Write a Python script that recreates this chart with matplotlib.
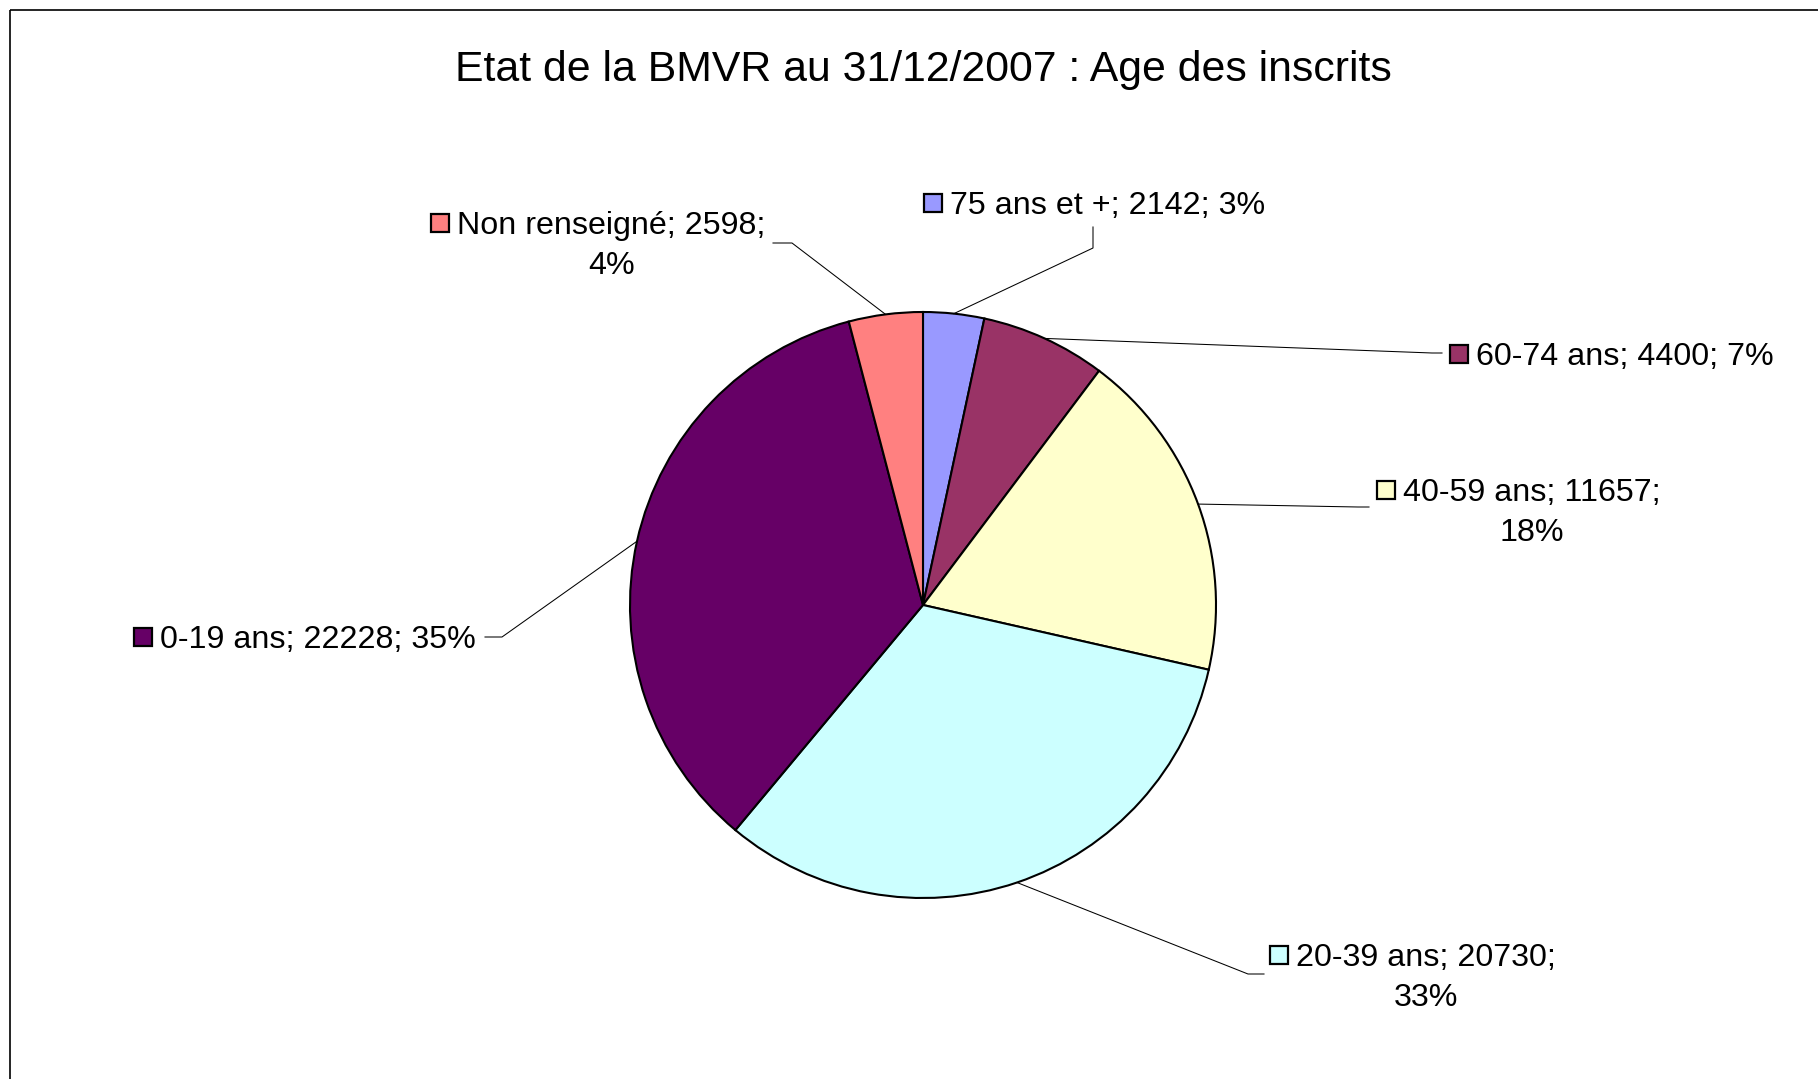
import numpy as np
import matplotlib.pyplot as plt

plt.rcParams['font.family'] = ['Liberation Sans', 'DejaVu Sans']

# data (slices clockwise from 12 o'clock)
categories = ["75 ans et +", "60-74 ans", "40-59 ans", "20-39 ans", "0-19 ans", "Non renseigné"]
counts = [2142, 4400, 11657, 20730, 22228, 2598]
colors = ["#9999FF", "#993366", "#FFFFCC", "#CCFFFF", "#660066", "#FF8080"]
title = "Etat de la BMVR au 31/12/2007 : Age des inscrits"

total = sum(counts)
percents = [f"{round(c / total * 100)}%" for c in counts]

# layout, in pixels from top-left: text start x, first line y, wrap, leader elbow, leader end
W, H = 1818, 1079
cx, cy, R = 923, 605, 293
layout = {
    "75 ans et +": (950, 203, False, (1093, 248), (1093, 227)),
    "60-74 ans": (1476, 354, False, (1432, 353), (1442, 353)),
    "40-59 ans": (1403, 490, True, (1358, 507), (1369, 507)),
    "20-39 ans": (1296, 955, True, (1248, 974), (1264, 974)),
    "0-19 ans": (160, 637, False, (502, 637), (485, 637)),
    "Non renseigné": (457, 223, True, (792, 243), (773, 243)),
}


def Y(y):
    return H - y


fig = plt.figure(figsize=(W / 100, H / 100), dpi=100)
ax = fig.add_axes([0, 0, 1, 1])

wedges, _ = ax.pie(counts, colors=colors, startangle=90, counterclock=False,
                   center=(cx, Y(cy)), radius=R,
                   wedgeprops=dict(edgecolor='black', linewidth=1.5))
ax.set_xlim(0, W)
ax.set_ylim(0, H)
ax.set_aspect('equal')
ax.axis('off')

# chart frame (runs off right and bottom)
ax.plot([10, 10], [Y(10), 0], color='black', lw=1.2, solid_capstyle='butt')
ax.plot([10, W], [Y(10), Y(10)], color='black', lw=1.2, solid_capstyle='butt')

ax.text(cx, Y(70), title, ha='center', va='center', fontsize=30.8)

renderer = fig.canvas.get_renderer()
fs = 23.2
dy = 3  # text sits a touch lower than its marker centre
for w, cat, n, pct, col in zip(wedges, categories, counts, percents, colors):
    tx, ty, wrap, elbow, end = layout[cat]
    th = np.deg2rad((w.theta1 + w.theta2) / 2)
    sx = cx + R * np.cos(th)
    sy = Y(cy) + R * np.sin(th)
    ax.plot([sx, elbow[0], end[0]], [sy, Y(elbow[1]), Y(end[1])],
            color='black', lw=0.75)

    ax.plot(tx - 17, Y(ty), marker='s', ms=12.5, mfc=col, mec='black', mew=1.6)
    if wrap:
        t = ax.text(tx, Y(ty + dy), f"{cat}; {n};", ha='left', va='center', fontsize=fs)
        bb = t.get_window_extent(renderer)
        ax.text((bb.x0 + bb.x1) / 2, Y(ty + dy + 40), pct, ha='center', va='center', fontsize=fs)
    else:
        ax.text(tx, Y(ty + dy), f"{cat}; {n}; {pct}", ha='left', va='center', fontsize=fs)

fig.savefig("out.png", dpi=100)
